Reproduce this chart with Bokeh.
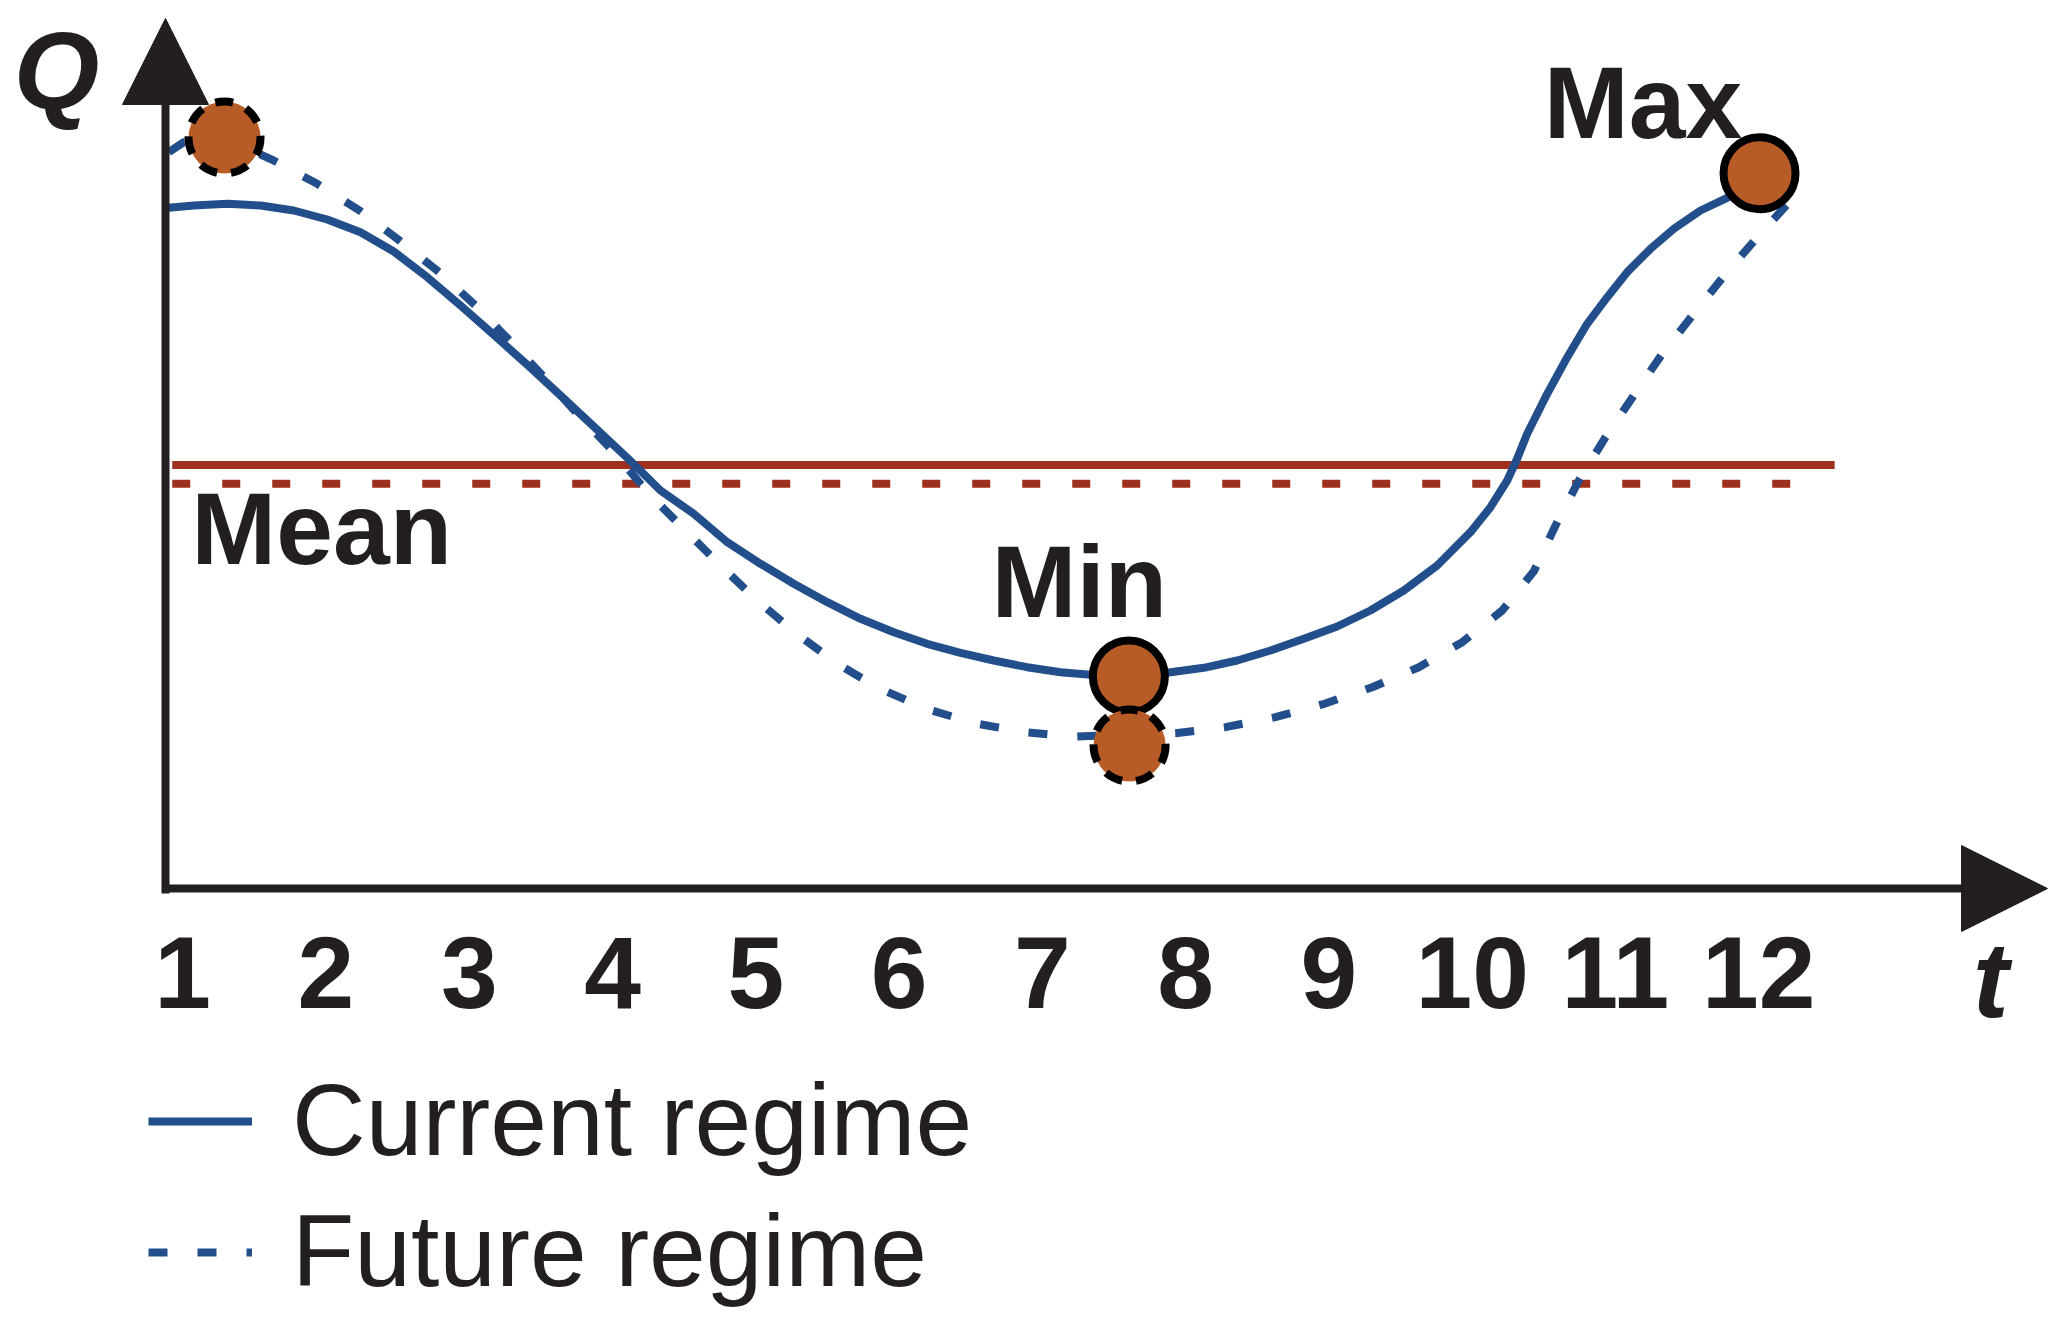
from bokeh.plotting import figure
from bokeh.models import Range1d, Label, Arrow, NormalHead, Legend, LegendItem
from bokeh.embed import file_html
from bokeh.resources import INLINE
from bokeh.core.properties import value

# ---------------- data ----------------
t_ticks = [1, 2, 3, 4, 5, 6, 7, 8, 9, 10, 11, 12]
tick_labels = ["1", "2", "3", "4", "5", "6", "7", "8", "9", "10", "11", "12"]

current_t = [0.903, 1.077, 1.311, 1.543, 1.775, 2.009, 2.241, 2.473, 2.707, 2.939,
             3.171, 3.405, 3.637, 3.869, 4.103, 4.335, 4.567, 4.801, 5.033, 5.265,
             5.499, 5.731, 5.963, 6.196, 6.429, 6.661, 6.894, 7.127, 7.336, 7.604,
             7.895, 8.127, 8.360, 8.593, 8.825, 9.058, 9.290, 9.523, 9.756, 9.988,
             10.128, 10.245, 10.315, 10.384, 10.524, 10.664, 10.803, 10.943, 11.082,
             11.245, 11.408, 11.594, 11.780, 12.006]
current_q = [6.807, 6.830, 6.847, 6.830, 6.780, 6.690, 6.563, 6.370, 6.113, 5.830,
             5.537, 5.237, 4.930, 4.620, 4.307, 3.980, 3.747, 3.463, 3.247, 3.047,
             2.863, 2.697, 2.563, 2.447, 2.357, 2.280, 2.213, 2.163, 2.137, 2.120,
             2.163, 2.207, 2.280, 2.380, 2.497, 2.620, 2.780, 2.980, 3.230, 3.563,
             3.813, 4.080, 4.300, 4.547, 4.947, 5.313, 5.647, 5.913, 6.163,
             6.397, 6.597, 6.780, 6.907, 7.153]

future_t = [0.903, 1.008, 1.292, 1.625, 1.939, 2.241, 2.520, 2.799, 3.056, 3.300,
            3.544, 3.765, 4.021, 4.253, 4.498, 4.754, 5.010, 5.277, 5.563, 5.859,
            6.190, 6.527, 6.876, 7.225, 7.929, 8.278, 8.627, 8.969, 9.303, 9.628,
            9.931, 10.210, 10.431, 10.582, 10.745, 10.931, 11.128, 11.327, 11.547,
            11.769, 12.001, 12.245, 12.315]
future_q = [7.363, 7.463, 7.510, 7.287, 7.047, 6.773, 6.473, 6.153, 5.813, 5.453,
            5.080, 4.730, 4.347, 3.947, 3.597, 3.230, 2.880, 2.557, 2.253, 2.003,
            1.797, 1.653, 1.563, 1.520, 1.553, 1.613, 1.713, 1.847, 2.013, 2.213,
            2.463, 2.780, 3.173, 3.630, 4.080, 4.513, 4.930, 5.347, 5.747,
            6.147, 6.530, 6.913, 7.007]

current_mean = 4.235
future_mean = 4.047

current_ext_t = [7.604, 12.006]    # Min, Max of the current regime
current_ext_q = [2.120, 7.153]
future_ext_t = [1.292, 7.609]      # Max, Min of the future regime
future_ext_q = [7.510, 1.430]

# ---------------- style ----------------
BLUE = "#234e8c"
RED = "#9e301e"
ORANGE = "#b85c27"
INK = "#231f20"
FONT = "Liberation Sans"
BASE = 0.39   # baseline correction for text drawn with the svg backend

p = figure(width=2051, height=1312, output_backend="svg", toolbar_location=None,
           x_range=Range1d(-0.2717, 14.0438), y_range=Range1d(-4.24, 8.88),
           min_border=0, outline_line_color=None, background_fill_color="white",
           border_fill_color="white")
p.axis.visible = False
p.grid.visible = False

# mean lines
p.line([0.927, 12.53], [current_mean, current_mean], line_color=RED, line_width=8)
p.line([0.927, 12.36], [future_mean, future_mean], line_color=RED, line_width=8,
       line_dash="18 32")

# regimes
r_cur = p.line(current_t, current_q, line_color=BLUE, line_width=8,
               line_join="round")
r_fut = p.line(future_t, future_q, line_color=BLUE, line_width=8, line_dash="19 30")

# extremes
p.scatter(current_ext_t, current_ext_q, size=72, fill_color=ORANGE,
          line_color="black", line_width=8)
p.scatter(future_ext_t, future_ext_q, size=72, fill_color=ORANGE,
          line_color="black", line_width=8, line_dash="18 14")

# axes as arrows
head_y = NormalHead(size=86, fill_color=INK, line_color=INK, line_width=1)
head_x = NormalHead(size=86, fill_color=INK, line_color=INK, line_width=1)
p.add_layout(Arrow(end=head_y, x_start=0.88, y_start=-0.05, x_end=0.88, y_end=8.70,
                   line_color=INK, line_width=8))
p.add_layout(Arrow(end=head_x, x_start=0.855, y_start=0.0, x_end=14.016, y_end=0.0,
                   line_color=INK, line_width=8))

# tick labels
p.text(x=t_ticks, y=-1.23 + BASE, text=tick_labels, text_align="center",
       text_baseline="alphabetic", text_font=value(FONT), text_font_style="bold",
       text_font_size=value("102px"), text_color=INK)

def lab(x, y, txt, style="bold", align="left", size="102px"):
    p.add_layout(Label(x=x, y=y + BASE, text=txt, text_font=FONT, text_font_style=style,
                       text_font_size=size, text_color=INK, text_align=align,
                       text_baseline="alphabetic"))

lab(0.119, 7.79, "Q", style="bold italic", align="center", size="110px")
lab(13.62, -1.30, "t", style="bold italic", align="center", size="108px")
lab(1.06, 3.21, "Mean")
lab(6.645, 2.68, "Min")
lab(10.50, 7.47, "Max")

legend = Legend(items=[LegendItem(label="Current regime", renderers=[r_cur]),
                       LegendItem(label="Future regime", renderers=[r_fut])],
                location=(148, 2), orientation="vertical",
                label_text_font=FONT, label_text_font_size="102px",
                label_text_color=INK, glyph_width=104, glyph_height=112,
                label_standoff=40, spacing=14, padding=0, margin=0,
                border_line_color=None, background_fill_alpha=0)
p.add_layout(legend)

open("out.html", "w").write(file_html(p, INLINE))
